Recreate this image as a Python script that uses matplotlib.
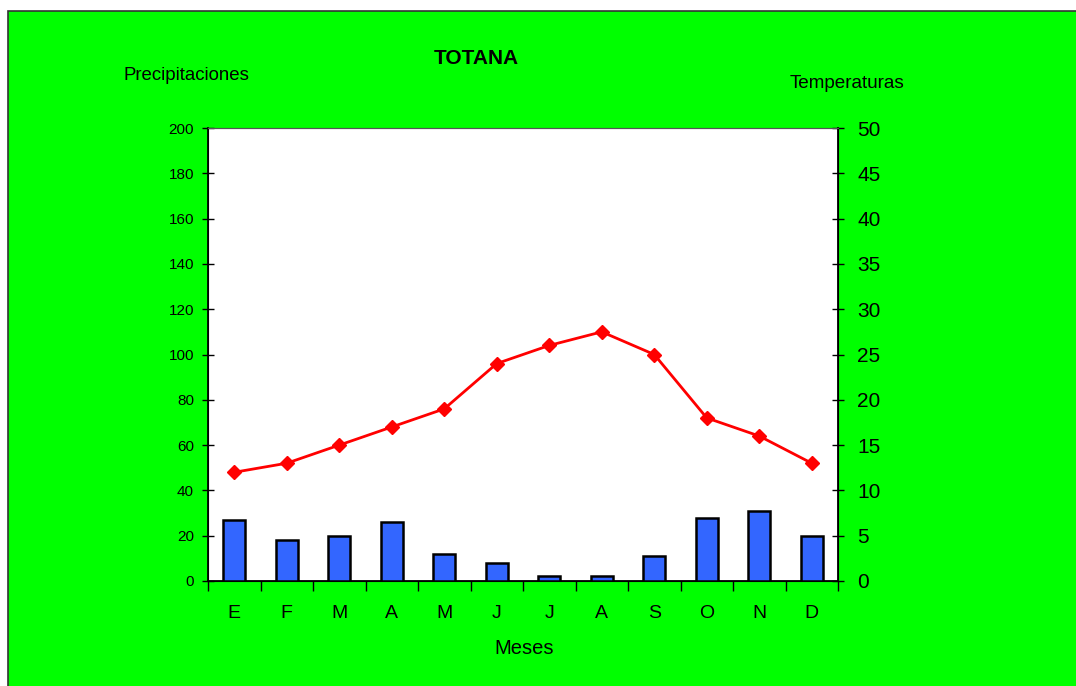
import matplotlib.pyplot as plt
import matplotlib.patches as mpatches
import numpy as np

plt.rcParams['font.family'] = ['Liberation Sans', 'DejaVu Sans']

# climate data for Totana
months = ['E', 'F', 'M', 'A', 'M', 'J', 'J', 'A', 'S', 'O', 'N', 'D']
precip = [27, 18, 20, 26, 12, 8, 2, 2, 11, 28, 31, 20]
temps = [12, 13, 15, 17, 19, 24, 26, 27.5, 25, 18, 16, 13]

fig = plt.figure(figsize=(10.76, 6.86), dpi=100, facecolor='white')

# green chart background with thin dark border (top and left visible)
bg = mpatches.Rectangle((8 / 1076, -0.01), 1.0, 1 - 11 / 686 + 0.01,
                        transform=fig.transFigure, facecolor='#00ff00',
                        edgecolor='#333333', linewidth=1.2, zorder=-5)
fig.patches.append(bg)

ax = fig.add_axes([208 / 1076, 1 - 581 / 686, 630 / 1076, 453 / 686])
ax.set_facecolor('white')
x = np.arange(len(months))
ax.bar(x, precip, width=0.42, color='#3366ff', edgecolor='black', linewidth=1.8, zorder=3)
ax.set_xlim(-0.5, len(months) - 0.5)
ax.set_ylim(0, 200)
ax.set_yticks(range(0, 201, 20))
ax.tick_params(axis='y', direction='inout', length=8, labelsize=11, width=1, pad=6)
ax.set_xticks(x)
ax.set_xticklabels(months, fontsize=14)
ax.tick_params(axis='x', length=0, pad=17)
ax.set_xticks(np.arange(-0.5, len(months)), minor=True)
ax.tick_params(axis='x', which='minor', direction='out', length=7, width=1)
for side in ['left', 'bottom']:
    ax.spines[side].set_linewidth(1.3)
ax.spines['top'].set_color('#555555')

ax2 = ax.twinx()
ax2.plot(x, temps, color='#ff0000', linewidth=2, marker='D', markersize=7.5,
         markerfacecolor='#ff0000', markeredgecolor='#ff0000', zorder=4)
ax2.set_ylim(0, 50)
ax2.set_yticks(range(0, 51, 5))
ax2.tick_params(axis='y', direction='inout', length=8, labelsize=15, width=1, pad=10)
ax2.spines['right'].set_linewidth(1.3)
ax2.spines['top'].set_color('#555555')

fig.text(476 / 1076, 1 - 59 / 686, 'TOTANA', ha='center', va='center',
         fontsize=15, fontweight='bold')
fig.text(186 / 1076, 1 - 76 / 686, 'Precipitaciones', ha='center', va='center', fontsize=13.4)
fig.text(847 / 1076, 1 - 84 / 686, 'Temperaturas', ha='center', va='center', fontsize=13.6)
fig.text(524 / 1076, 1 - 649 / 686, 'Meses', ha='center', va='center', fontsize=14.5)

fig.savefig('out.png', dpi=100, facecolor='white')
